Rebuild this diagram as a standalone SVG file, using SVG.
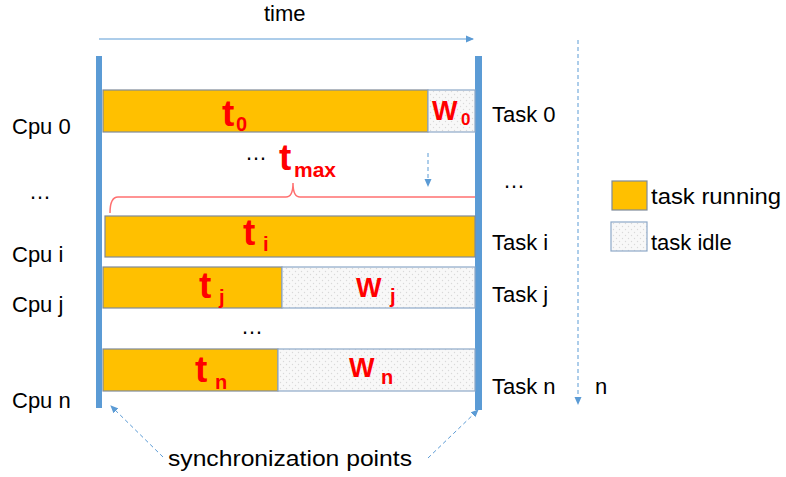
<svg xmlns="http://www.w3.org/2000/svg" width="786" height="477" viewBox="0 0 786 477">
  <defs>
    <style>
      .lbl{font-family:"Liberation Sans",Arial,sans-serif;font-size:22px;fill:#000}
      .t{font-family:"Liberation Sans",Arial,sans-serif;font-weight:bold;fill:#FF0000}
      .big{font-size:37px}
      .w{font-size:27px}
      .sub{font-size:20px}
      .run{fill:#FFC000;stroke:#7F8A99;stroke-width:1.2}
      .idle{fill:url(#dots);stroke:#8EA9C8;stroke-width:1.2}
      .bar{fill:#5B9BD5}
      .guide{stroke:#5B9BD5;stroke-width:1;fill:none}
      .dash{stroke-dasharray:4 3}
      .brace{stroke:#FF7070;stroke-width:1.5;fill:none}
    </style>
    <pattern id="dots" width="6" height="6" patternUnits="userSpaceOnUse">
      <rect width="6" height="6" fill="#F8F8F8"/>
      <circle cx="1.5" cy="1.5" r="0.7" fill="#D9D9D9"/>
      <circle cx="4.5" cy="4.5" r="0.7" fill="#D9D9D9"/>
    </pattern>
    <marker id="ah" markerWidth="8" markerHeight="8" refX="7" refY="4" orient="auto" markerUnits="userSpaceOnUse">
      <path d="M0,0.5 L8,4 L0,7.5 Z" fill="#5B9BD5"/>
    </marker>
  </defs>

  <!-- synchronization bars -->
  <g id="sync-left"><rect class="bar" x="96" y="56" width="6" height="352"/></g>
  <g id="sync-right"><rect class="bar" x="475" y="56" width="7" height="354"/></g>

  <!-- task rows -->
  <g id="row-0">
    <rect class="run" x="103" y="90" width="325" height="42"/>
    <rect class="idle" x="428" y="90" width="47" height="42"/>
    <text class="t big" x="222" y="126">t</text>
    <text class="t sub" x="236" y="131">0</text>
    <text class="t w" x="432" y="120">W</text>
    <text class="t" x="461" y="125" font-size="17">0</text>
  </g>
  <g id="row-i">
    <rect class="run" x="105" y="216" width="370" height="41"/>
    <text class="t big" x="243" y="245">t</text>
    <text class="t sub" x="263" y="251">i</text>
  </g>
  <g id="row-j">
    <rect class="run" x="103" y="267" width="179" height="41"/>
    <rect class="idle" x="282" y="267" width="193" height="41"/>
    <text class="t big" x="199" y="298">t</text>
    <text class="t sub" x="219" y="304">j</text>
    <text class="t w" x="356" y="297">W</text>
    <text class="t sub" x="390" y="303">j</text>
  </g>
  <g id="row-n">
    <rect class="run" x="103" y="349" width="175" height="42"/>
    <rect class="idle" x="278" y="349" width="197" height="42"/>
    <text class="t big" x="195" y="382">t</text>
    <text class="t sub" x="215" y="389">n</text>
    <text class="t w" x="349" y="377">W</text>
    <text class="t sub" x="381" y="384">n</text>
  </g>

  <!-- t_max span -->
  <g id="tmax">
    <path class="brace" d="M110,213 Q110,197 118,197 L286,197 Q293,197 293,183 Q293,197 300,197 L475,197"/>
    <text class="lbl" x="245" y="160">…</text>
    <text class="t big" x="279" y="170">t</text>
    <text class="t" x="294" y="177" font-size="21">max</text>
  </g>
  <g id="gap-dots"><text class="lbl" x="241" y="334">…</text></g>

  <!-- cpu labels -->
  <g id="cpu-labels">
    <text class="lbl" x="12" y="134">Cpu 0</text>
    <text class="lbl" x="29" y="199">…</text>
    <text class="lbl" x="12" y="262">Cpu i</text>
    <text class="lbl" x="12" y="312">Cpu j</text>
    <text class="lbl" x="12" y="408">Cpu n</text>
  </g>

  <!-- task labels -->
  <g id="task-labels">
    <text class="lbl" x="492" y="122">Task 0</text>
    <text class="lbl" x="503" y="188">…</text>
    <text class="lbl" x="492" y="250">Task i</text>
    <text class="lbl" x="492" y="302">Task j</text>
    <text class="lbl" x="492" y="394">Task n</text>
    <text class="lbl" x="595" y="394">n</text>
  </g>

  <g id="time-label"><text class="lbl" x="264" y="21" font-size="25">time</text></g>

  <!-- legend -->
  <g id="legend">
    <rect class="run" x="612" y="181" width="35" height="29"/>
    <text class="lbl" x="651" y="204" textLength="130" lengthAdjust="spacingAndGlyphs">task running</text>
    <rect class="idle" x="611" y="222" width="36" height="29"/>
    <text class="lbl" x="651" y="250">task idle</text>
  </g>

  <g id="sync-label"><text class="lbl" x="168" y="466" textLength="244" lengthAdjust="spacingAndGlyphs">synchronization points</text></g>

  <!-- connectors -->
  <g id="connectors">
    <line class="guide" x1="99" y1="39" x2="473" y2="39" marker-end="url(#ah)"/>
    <line class="guide dash" x1="578" y1="40" x2="578" y2="404" marker-end="url(#ah)"/>
    <line class="guide dash" x1="428" y1="153" x2="428" y2="186" marker-end="url(#ah)"/>
    <line class="guide dash" x1="163" y1="457" x2="111" y2="406" marker-end="url(#ah)"/>
    <line class="guide dash" x1="428" y1="458" x2="478" y2="410" marker-end="url(#ah)"/>
  </g>
</svg>
